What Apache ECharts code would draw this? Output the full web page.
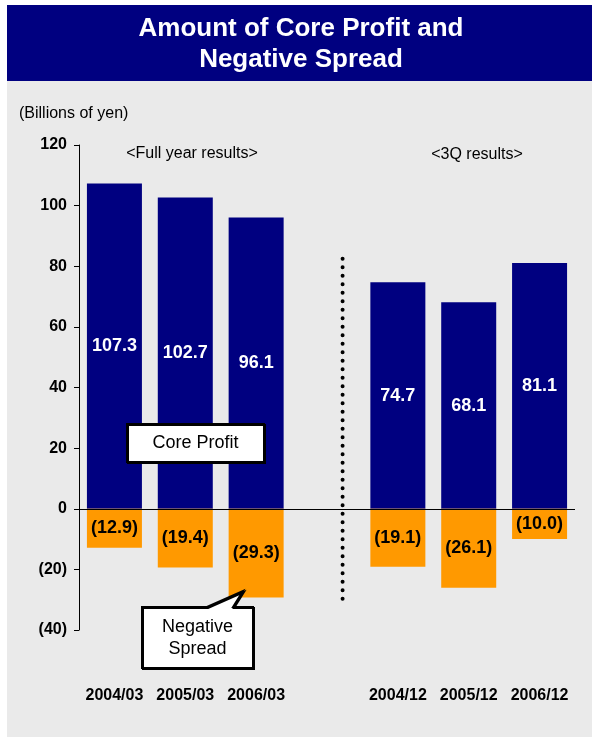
<!DOCTYPE html>
<html>
<head>
<meta charset="utf-8">
<script src="https://cdn.jsdelivr.net/npm/echarts@6/dist/echarts.min.js"></script>
<style>
  html, body { margin: 0; padding: 0; background: #fff; }
  #chart { width: 592px; height: 737px; }
</style>
</head>
<body>
<div id="chart"></div>
<script>
// categories (empty slot in the middle separates the two groups)
var categories = ['2004/03', '2005/03', '2006/03', '', '2004/12', '2005/12', '2006/12'];
// core profit, billions of yen
var coreProfit = [107.3, 102.7, 96.1, '-', 74.7, 68.1, 81.1];
// negative spread, billions of yen
var negativeSpread = [-12.9, -19.4, -29.3, '-', -19.1, -26.1, -10.0];
// y axis range
var yMin = -40, yMax = 120, yStep = 20;
// dotted divider between the two groups (x in slot units, y in axis units)
var dividerX = 3.22;
var dividerY = [82.5, -32.3];

var FONT = '"Liberation Sans", Arial, sans-serif';

function fmtNeg(v) {
    return v < 0 ? '(' + (-v).toFixed(1) + ')' : v.toFixed(1);
}

var chart = echarts.init(document.getElementById('chart'));

var option = {
    animation: false,
    textStyle: { fontFamily: FONT },
    grid: { left: 79, right: 17, top: 145, bottom: 107 },
    xAxis: [
        {
            type: 'category',
            data: categories,
            position: 'bottom',
            axisLine: { show: false, onZero: false },
            axisTick: { show: false },
            axisLabel: {
                margin: 58,
                color: '#000',
                fontWeight: 'bold',
                fontSize: 16,
                fontFamily: FONT,
                interval: 0
            }
        },
        {
            // hidden helper axis, used only for the dotted divider
            type: 'value',
            min: -0.5,
            max: categories.length - 0.5,
            show: false
        }
    ],
    yAxis: {
        type: 'value',
        min: yMin,
        max: yMax,
        interval: yStep,
        splitLine: { show: false },
        axisLine: { show: true, onZero: false, lineStyle: { color: '#000', width: 1 } },
        axisTick: { show: true, length: 5, lineStyle: { color: '#000' } },
        axisLabel: {
            margin: 12,
            color: '#000',
            fontWeight: 'bold',
            fontSize: 16,
            fontFamily: FONT,
            formatter: function (v) { return v < 0 ? '(' + (-v) + ')' : String(v); }
        }
    },
    graphic: [
        // backgrounds
        { type: 'rect', z: -20, silent: true, shape: { x: 7, y: 81, width: 585, height: 656 }, style: { fill: '#EAEAEA' } },
        { type: 'rect', z: -20, silent: true, shape: { x: 7, y: 5, width: 585, height: 76 }, style: { fill: '#000080' } },
        // title
        {
            type: 'text', z: 50, x: 301, y: 44,
            style: {
                text: 'Amount of Core Profit and\nNegative Spread',
                fill: '#fff', font: 'bold 26px ' + FONT,
                align: 'center', verticalAlign: 'middle', lineHeight: 31
            }
        },
        { type: 'text', x: 19, y: 114, style: { text: '(Billions of yen)', fill: '#000', font: '16px ' + FONT, verticalAlign: 'middle' } },
        { type: 'text', x: 192, y: 154, style: { text: '<Full year results>', fill: '#000', font: '16px ' + FONT, align: 'center', verticalAlign: 'middle' } },
        { type: 'text', x: 477, y: 155, style: { text: '<3Q results>', fill: '#000', font: '16px ' + FONT, align: 'center', verticalAlign: 'middle' } },
        // Core Profit callout
        {
            type: 'rect', z: 100,
            shape: { x: 127, y: 424, width: 137, height: 38 },
            style: { fill: '#fff', stroke: '#000', lineWidth: 2, shadowColor: '#000', shadowOffsetX: 1, shadowOffsetY: 1 }
        },
        { type: 'text', z: 101, x: 195.5, y: 443, style: { text: 'Core Profit', fill: '#000', font: '18px ' + FONT, align: 'center', verticalAlign: 'middle' } },
        // Negative Spread callout
        {
            type: 'polygon', z: 100,
            shape: { points: [[142, 607], [207, 607], [243, 591], [233, 607], [253, 607], [253, 668], [142, 668]] },
            style: { fill: '#fff', stroke: '#000', lineWidth: 2, shadowColor: '#000', shadowOffsetX: 1, shadowOffsetY: 1 }
        },
        { type: 'text', z: 101, x: 197.5, y: 638, style: { text: 'Negative\nSpread', fill: '#000', font: '18px ' + FONT, align: 'center', verticalAlign: 'middle', lineHeight: 22 } }
    ],
    series: [
        {
            name: 'Core Profit',
            type: 'bar',
            stack: 'total',
            barWidth: 55,
            data: coreProfit,
            itemStyle: { color: '#000080' },
            label: {
                show: true,
                position: 'inside',
                color: '#fff',
                fontWeight: 'bold',
                fontSize: 18,
                fontFamily: FONT,
                formatter: function (p) { return fmtNeg(p.value); }
            },
            markLine: {
                silent: true,
                symbol: 'none',
                label: { show: false },
                lineStyle: { color: '#000', width: 1, type: 'solid' },
                data: [{ yAxis: 0 }]
            }
        },
        {
            name: 'Negative Spread',
            type: 'bar',
            stack: 'total',
            barWidth: 55,
            data: negativeSpread,
            itemStyle: { color: '#FF9900' },
            label: {
                show: true,
                position: 'inside',
                color: '#000',
                fontWeight: 'bold',
                fontSize: 18,
                fontFamily: FONT,
                formatter: function (p) { return fmtNeg(p.value); }
            }
        },
        {
            name: 'divider',
            type: 'line',
            xAxisIndex: 1,
            symbol: 'none',
            silent: true,
            data: [[dividerX, dividerY[0]], [dividerX, dividerY[1]]],
            lineStyle: { color: '#000', width: 4, type: [0, 8.5], cap: 'round' }
        }
    ]
};

chart.setOption(option);
</script>
</body>
</html>
